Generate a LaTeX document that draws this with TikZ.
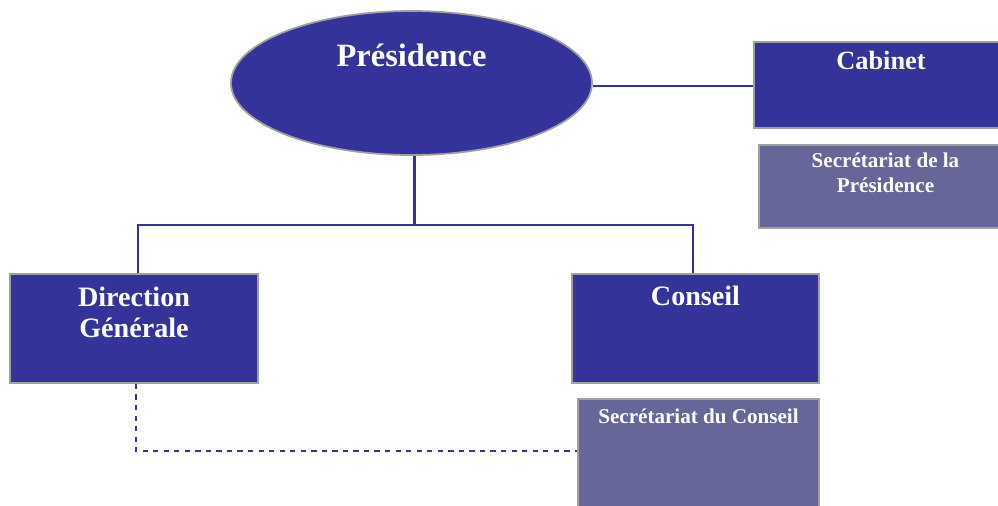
\documentclass[tikz,border=0pt]{standalone}
\usepackage{fontspec}
\setmainfont{Liberation Serif}
\usetikzlibrary{positioning,shapes.geometric}
\definecolor{orgblue}{HTML}{333399}
\definecolor{orgmauve}{HTML}{666699}
\definecolor{orgedge}{HTML}{A0A0A0}
\tikzset{unit/.style={draw=orgedge,line width=1pt,fill=orgblue,inner sep=0pt}}
\tikzset{mainbox/.style={unit,rectangle}}
\tikzset{secbox/.style={unit,rectangle,fill=orgmauve}}
\tikzset{headtext/.style={text=white,font=\bfseries,align=center,inner sep=0pt}}
\tikzset{link/.style={draw=orgblue,line width=1.2pt}}

\begin{document}
\begin{tikzpicture}[x=0.02cm,y=-0.02cm]
        \clip (0,0) rectangle (998,505);
        \node[unit,ellipse,minimum width=361*0.02cm,minimum height=144*0.02cm] (pres) at (411.5,83) {};
        \node[headtext,font=\bfseries\fontsize{18.5}{22}\selectfont] (prest) at (411.5,55) {Présidence};
        \node[mainbox,minimum width=254*0.02cm,minimum height=86*0.02cm] (cab) at (881,85) {};
        \node[headtext,font=\bfseries\fontsize{15}{18}\selectfont] (cabt) at (881,60) {Cabinet};
        \node[secbox,minimum width=253*0.02cm,minimum height=83*0.02cm] (sdp) at (885.5,186.5) {};
        \node[headtext,font=\bfseries\fontsize{12}{14.2}\selectfont] (sdpt) at (885.5,173) {Secrétariat de la\\Présidence};
        \node[mainbox,minimum width=248*0.02cm,minimum height=109*0.02cm] (dg) at (134,328.5) {};
        \node[headtext,font=\bfseries\fontsize{16}{17.6}\selectfont] (dgt) at (134,312) {Direction\\Générale};
        \node[mainbox,minimum width=247*0.02cm,minimum height=109*0.02cm] (cons) at (695.5,328.5) {};
        \node[headtext,font=\bfseries\fontsize{16}{19}\selectfont] (const) at (695.5,296) {Conseil};
        \node[secbox,minimum width=241*0.02cm,minimum height=109*0.02cm] (sdc) at (698.5,453.5) {};
        \node[headtext,font=\bfseries\fontsize{12}{14}\selectfont] (sdct) at (698.5,416) {Secrétariat du Conseil};
        \coordinate (jn) at ([xshift=1.7pt]pres.south |- 0,225);
        % links
        \path[link] ([yshift=-1.7pt]pres.east) -- ([yshift=-1.7pt]pres.east -| cab.west);
        \path[link] ([xshift=1.7pt]pres.south) -- (jn);
        \path[link] ([xshift=2.3pt]dg.north) |- (jn) -| ([xshift=-1.4pt]cons.north);
        \path[link,line width=0.8pt,dashed] ([xshift=1.1pt]dg.south) |- ([yshift=1.4pt]sdc.west);
\end{tikzpicture}
\end{document}
